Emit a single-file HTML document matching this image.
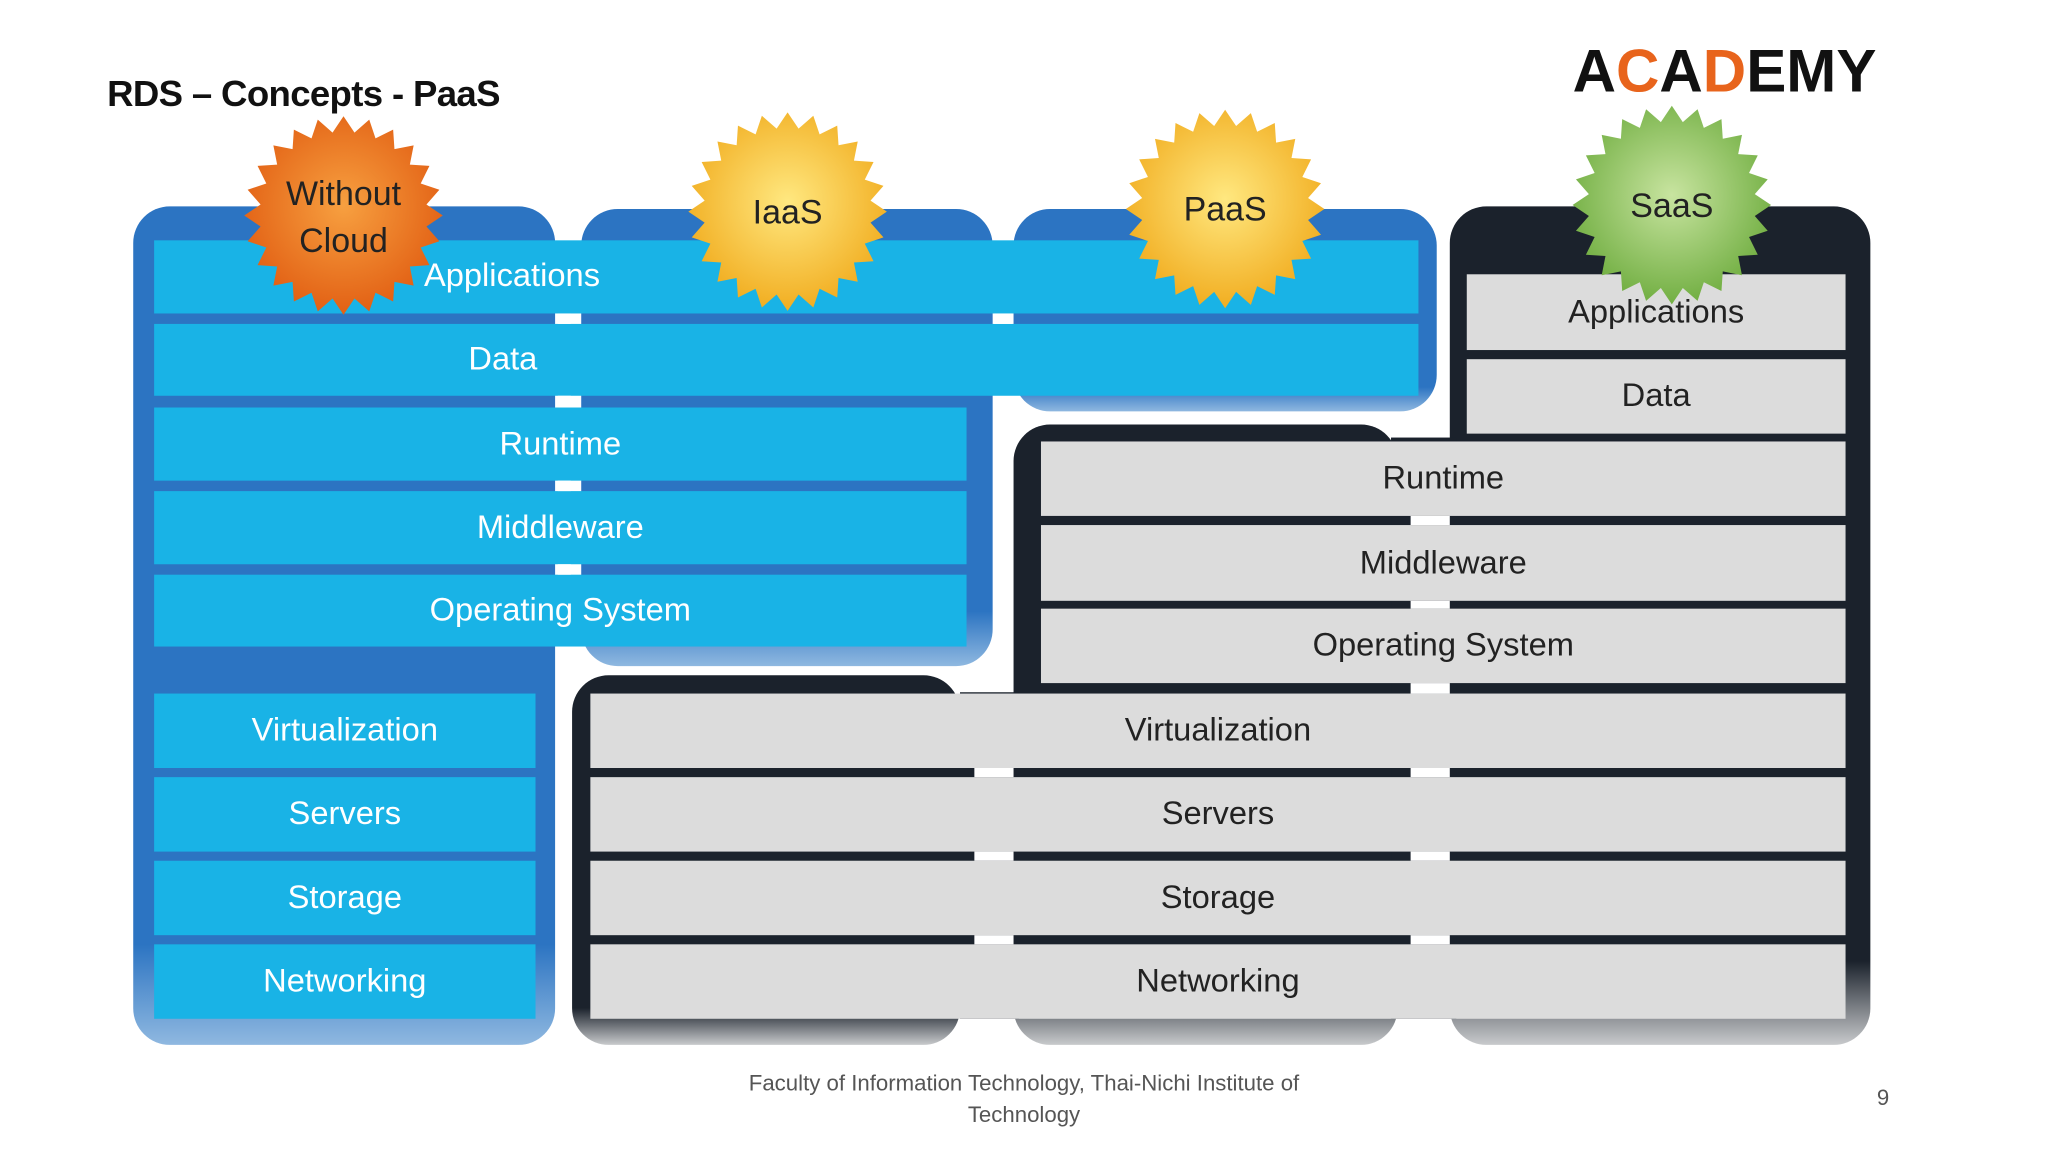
<!DOCTYPE html>
<html><head><meta charset="utf-8"><style>
html,body{margin:0;padding:0;background:#fff;}
body{width:2048px;height:1152px;overflow:hidden;position:relative;}
#w{position:absolute;left:0;top:0;width:1568px;height:882px;transform:scale(1.30612);transform-origin:0 0;font-family:"Liberation Sans",sans-serif;}
.a{position:absolute;}
.p{position:absolute;border-radius:28px;}
.blue{background:linear-gradient(#2c74c2 0%,#2c74c2 88%,#8fb8e0 100%);}
.dark{background:linear-gradient(#1b222c 0%,#1b222c 90%,#c8cacc 100%);}
.r{position:absolute;display:flex;align-items:center;justify-content:center;font-size:25px;}
.b{background:#19b3e6;color:#fff;}
.g{background:#dcdcdc;color:#222;}
.wt{position:absolute;background:#fff;}
.lbl{position:absolute;font-size:26px;color:#222;text-align:center;line-height:36px;}
.t{position:absolute;font-size:25px;color:#fff;text-align:center;width:300px;}
</style></head><body><div id="w">
<div class="a" style="left:82px;top:56px;font-size:28px;font-weight:bold;color:#111;letter-spacing:-0.5px;">RDS – Concepts - PaaS</div>
<div class="a" style="left:1204px;top:27px;font-size:46px;font-weight:bold;color:#111;">A<span style="color:#e8641c">C</span>A<span style="color:#e8641c">D</span>EMY</div>

<div class="p blue" style="left:102px;top:158px;width:323px;height:642px;"></div>
<div class="p blue" style="left:445px;top:160px;width:315px;height:350px;"></div>
<div class="p blue" style="left:776px;top:160px;width:324px;height:155px;"></div>
<div class="p dark" style="left:438px;top:517px;width:297px;height:283px;"></div>
<div class="p dark" style="left:776px;top:325px;width:294px;height:475px;"></div>
<div class="p dark" style="left:1110px;top:158px;width:322px;height:642px;"></div>
<div class="a" style="left:735px;top:530px;width:45px;height:250px;background:#1b222c"></div>
<div class="a" style="left:1065px;top:335px;width:50px;height:445px;background:#1b222c"></div>

<div class="r b" style="left:118px;top:184px;width:968px;height:56px;"></div>
<div class="r b" style="left:118px;top:248px;width:968px;height:55px;"></div>
<div class="r b" style="left:118px;top:312px;width:622px;height:56px;">Runtime</div>
<div class="r b" style="left:118px;top:376px;width:622px;height:56px;">Middleware</div>
<div class="r b" style="left:118px;top:440px;width:622px;height:55px;">Operating System</div>
<div class="r b" style="left:118px;top:531px;width:292px;height:57px;">Virtualization</div>
<div class="r b" style="left:118px;top:595px;width:292px;height:57px;">Servers</div>
<div class="r b" style="left:118px;top:659px;width:292px;height:57px;">Storage</div>
<div class="r b" style="left:118px;top:723px;width:292px;height:57px;">Networking</div>

<div class="r g" style="left:1123px;top:210px;width:290px;height:58px;">Applications</div>
<div class="r g" style="left:1123px;top:275px;width:290px;height:57px;">Data</div>
<div class="r g" style="left:797px;top:338px;width:616px;height:57px;">Runtime</div>
<div class="r g" style="left:797px;top:402px;width:616px;height:58px;">Middleware</div>
<div class="r g" style="left:797px;top:466px;width:616px;height:57px;">Operating System</div>
<div class="r g" style="left:452px;top:531px;width:961px;height:57px;">Virtualization</div>
<div class="r g" style="left:452px;top:595px;width:961px;height:57px;">Servers</div>
<div class="r g" style="left:452px;top:659px;width:961px;height:57px;">Storage</div>
<div class="r g" style="left:452px;top:723px;width:961px;height:57px;">Networking</div>

<div class="wt" style="left:427px;top:240px;width:10px;height:8px"></div>
<div class="wt" style="left:761px;top:240px;width:14px;height:8px"></div>
<div class="wt" style="left:427px;top:303px;width:10px;height:9px"></div>
<div class="wt" style="left:427px;top:368px;width:10px;height:8px"></div>
<div class="wt" style="left:427px;top:432px;width:10px;height:8px"></div>
<div class="wt" style="left:1080px;top:395px;width:30px;height:7px"></div>
<div class="wt" style="left:1080px;top:460px;width:30px;height:6px"></div>
<div class="wt" style="left:1080px;top:523px;width:30px;height:8px"></div>
<div class="wt" style="left:746px;top:588px;width:30px;height:7px"></div>
<div class="wt" style="left:1080px;top:588px;width:30px;height:7px"></div>
<div class="wt" style="left:746px;top:652px;width:30px;height:7px"></div>
<div class="wt" style="left:1080px;top:652px;width:30px;height:7px"></div>
<div class="wt" style="left:746px;top:716px;width:30px;height:7px"></div>
<div class="wt" style="left:1080px;top:716px;width:30px;height:7px"></div>

<svg class="a" style="left:0;top:0" width="1568" height="882" id="sv">
<defs>
<radialGradient id="go" cx="50%" cy="45%" r="60%"><stop offset="0" stop-color="#f7a040"/><stop offset="1" stop-color="#e05a10"/></radialGradient>
<radialGradient id="gy" cx="50%" cy="45%" r="60%"><stop offset="0" stop-color="#ffe880"/><stop offset="1" stop-color="#f0a818"/></radialGradient>
<radialGradient id="gg" cx="50%" cy="45%" r="60%"><stop offset="0" stop-color="#c8e4a0"/><stop offset="1" stop-color="#6aaa3a"/></radialGradient>
</defs>
</svg>
<div class="t" style="left:242px;top:197px;">Applications</div>
<div class="t" style="left:235px;top:261px;">Data</div>
<div class="lbl" style="left:183px;top:130px;width:160px;">Without<br>Cloud</div>
<div class="lbl" style="left:523px;top:144px;width:160px;">IaaS</div>
<div class="lbl" style="left:858px;top:142px;width:160px;">PaaS</div>
<div class="lbl" style="left:1200px;top:139px;width:160px;">SaaS</div>

<div class="a" style="left:534px;top:818px;width:500px;text-align:center;font-size:17px;color:#555;line-height:24px;">Faculty of Information Technology, Thai-Nichi Institute of Technology</div>
<div class="a" style="left:1437px;top:831px;font-size:17px;color:#555;">9</div>
</div>
<script>
var sv=document.getElementById('sv');
[[263,165,'go'],[603,162,'gy'],[938,160,'gy'],[1280,157,'gg']].forEach(function(s){
 var pts=[],n=48;
 for(var i=0;i<n;i++){var r=i%2?64:76,a=i*Math.PI*2/n;pts.push((s[0]+r*Math.cos(a)).toFixed(1)+','+(s[1]+r*Math.sin(a)).toFixed(1));}
 var p=document.createElementNS('http://www.w3.org/2000/svg','polygon');
 p.setAttribute('points',pts.join(' '));p.setAttribute('fill','url(#'+s[2]+')');sv.appendChild(p);
});
</script>
</body></html>
